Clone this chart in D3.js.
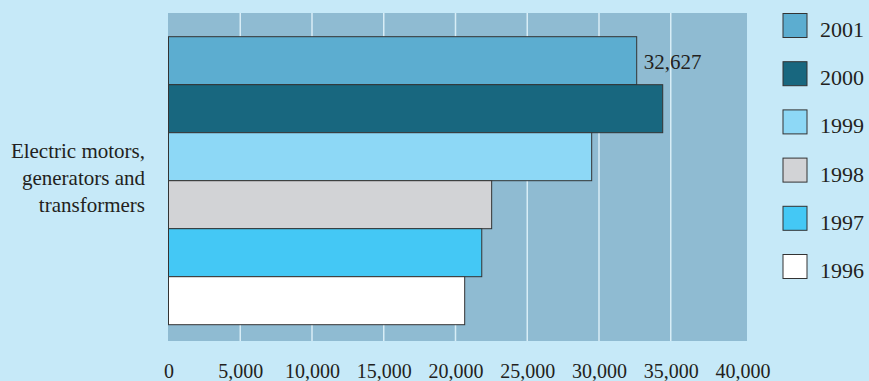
<!DOCTYPE html>
<html>
<head>
<meta charset="utf-8">
<script src="https://cdn.jsdelivr.net/npm/d3@7"></script>
<style>
  body { margin: 0; background: #c6e9f8; }
  text { font-family: "Liberation Serif", "Times New Roman", serif; fill: #231f20; }
</style>
</head>
<body>
<script>
const years = ['2001', '2000', '1999', '1998', '1997', '1996'];
const values = [32627, 34440, 29490, 22520, 21830, 20640];
const colors = ['#5cadd0', '#18677f', '#8dd8f6', '#d2d3d6', '#44c8f5', '#ffffff'];
const category = ['Electric motors,', 'generators and', 'transformers'];
const ticks = [0, 5000, 10000, 15000, 20000, 25000, 30000, 35000, 40000];
const labelled = '2001';

const width = 869, height = 381;
const plot = { left: 168, right: 747, top: 13, bottom: 341 };

const svg = d3.select('body').append('svg')
  .attr('width', width)
  .attr('height', height);

svg.append('rect')
  .attr('width', width).attr('height', height)
  .attr('fill', '#c6e9f8');

svg.append('rect')
  .attr('x', plot.left).attr('y', plot.top)
  .attr('width', plot.right - plot.left)
  .attr('height', plot.bottom - plot.top)
  .attr('fill', '#8fbbd2');

const x = d3.scaleLinear().domain([0, 40000]).range([168.5, 742.5]);
const y = d3.scaleBand().domain(years).range([36.7, 324.7]).padding(0);

// gridlines
svg.append('g').selectAll('line')
  .data(ticks.filter(t => t > 0 && t < 40000))
  .join('line')
  .attr('x1', d => x(d)).attr('x2', d => x(d))
  .attr('y1', plot.top).attr('y2', plot.bottom)
  .attr('stroke', '#d8edf6')
  .attr('stroke-width', 1.5);

// bars
svg.append('g').selectAll('rect')
  .data(years)
  .join('rect')
  .attr('x', x(0))
  .attr('y', d => y(d))
  .attr('width', (d, i) => x(values[i]) - x(0))
  .attr('height', y.bandwidth())
  .attr('fill', (d, i) => colors[i])
  .attr('stroke', '#333')
  .attr('stroke-width', 1);

// value label
const li = years.indexOf(labelled);
svg.append('text')
  .attr('x', x(values[li]) + 7)
  .attr('y', y(labelled) + y.bandwidth() / 2 + 8.5)
  .style('font-size', '21px')
  .text(d3.format(',')(values[li]));

// x axis
const xAxis = d3.axisBottom(x)
  .tickValues(ticks)
  .tickFormat(d3.format(','))
  .tickSize(0)
  .tickPadding(0);
const ax = svg.append('g')
  .attr('transform', `translate(0, 364)`)
  .call(xAxis);
ax.select('.domain').remove();
ax.selectAll('text')
  .attr('dy', '0.7em')
  .style('font-size', '20px')
  .style('font-family', '"Liberation Serif", "Times New Roman", serif')
  .attr('fill', '#231f20');

// category label
svg.append('text')
  .attr('text-anchor', 'end')
  .style('font-size', '21px')
  .selectAll('tspan')
  .data(category)
  .join('tspan')
  .attr('x', 145)
  .attr('y', (d, i) => 158 + i * 26.8)
  .text(d => d);

// legend
const leg = svg.append('g').selectAll('g')
  .data(years)
  .join('g')
  .attr('transform', (d, i) => `translate(783, ${13.5 + i * 48.2})`);

leg.append('rect')
  .attr('width', 24).attr('height', 24)
  .attr('fill', (d, i) => colors[i])
  .attr('stroke', '#333')
  .attr('stroke-width', 1);

leg.append('text')
  .attr('x', 37)
  .attr('y', 23.5)
  .style('font-size', '22px')
  .text(d => d);
</script>
</body>
</html>
